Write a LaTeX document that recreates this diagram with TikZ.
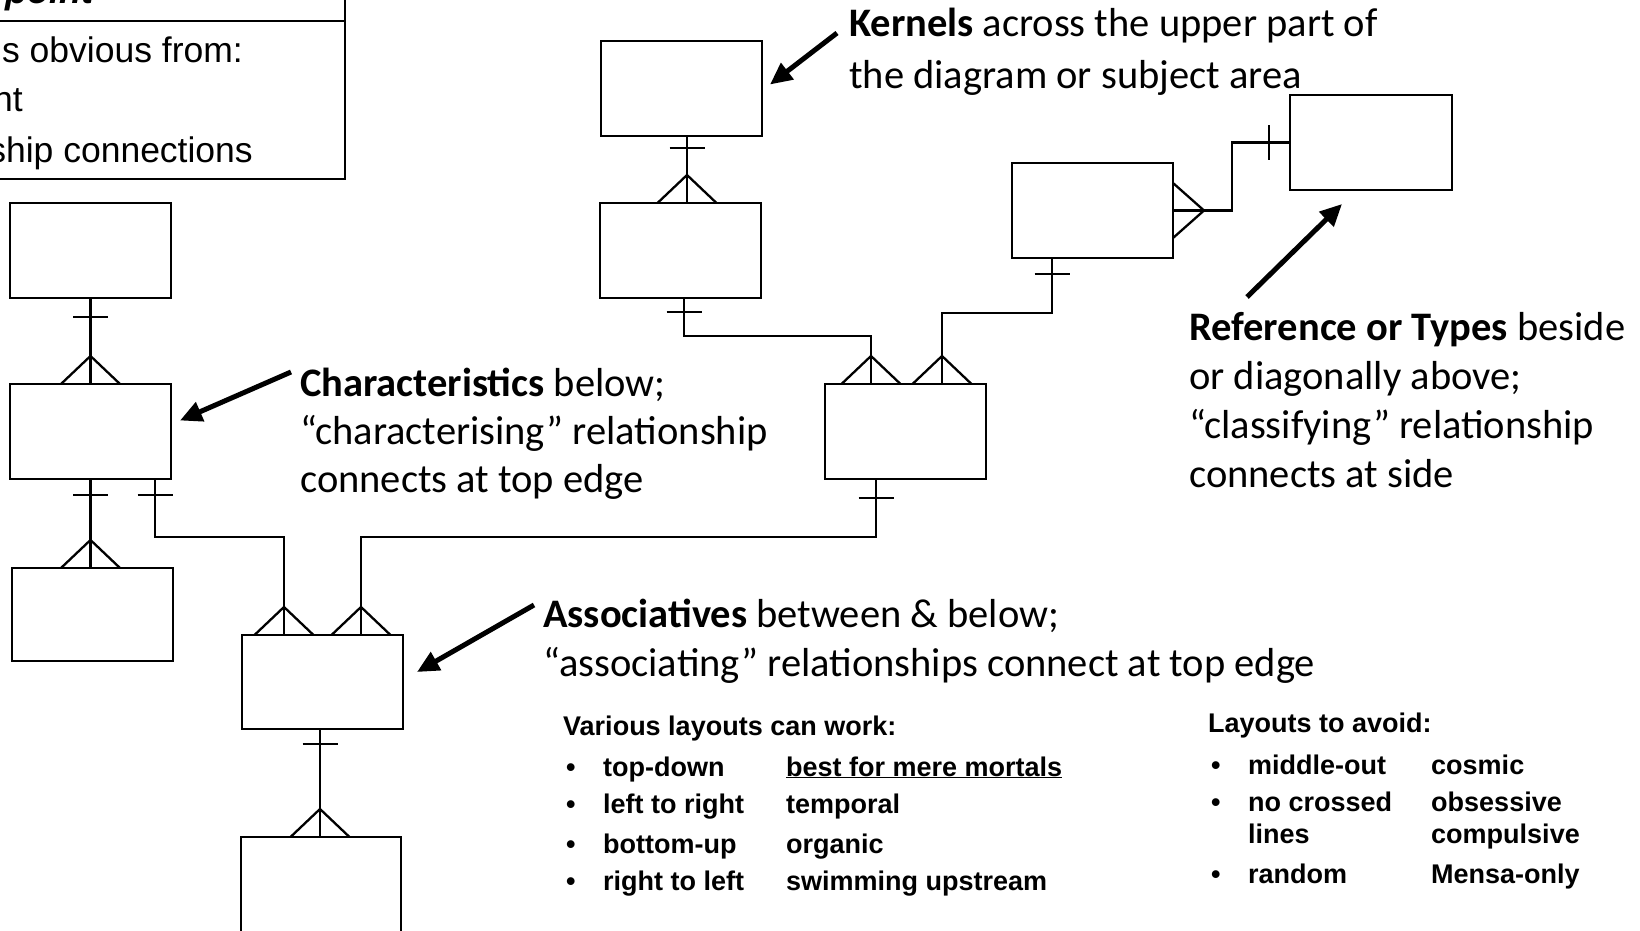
\documentclass[tikz,border=0pt]{standalone}
\usepackage{fontspec}
\setmainfont{Carlito}
\newfontfamily\arialf{Liberation Sans}
\usetikzlibrary{arrows.meta,calc}
\begin{document}
\begin{tikzpicture}[x=1pt,y=-1pt,
  box/.style={draw,line width=2.6pt,inner sep=0pt,outer sep=0pt,minimum width=161pt,minimum height=95pt},
  conn/.style={line width=2.3pt},
  callout/.style={line width=5pt,-{Triangle[length=22pt,width=20pt]}},
  txt/.style={anchor=base west,inner sep=0pt,font=\fontsize{40.5}{50}\selectfont},
  lst/.style={anchor=base west,inner sep=0pt,font=\arialf\bfseries\fontsize{27}{32}\selectfont},
  tl/.style={anchor=base east,inner sep=0pt,font=\arialf\fontsize{35.5}{40}\selectfont},
  barh/.pic={\draw[conn] (-17.5,0) -- (17.5,0);},
  barv/.pic={\draw[conn] (0,-17) -- (0,17);},
  crow/.pic={\draw[conn] (-29.5,0) -- (0,-28) -- (29.5,0);},
  crowr/.pic={\draw[conn] (0,-27.5) -- (31,0) -- (0,27.5);},
]
\path[use as bounding box] (0,0) rectangle (1640,931);
\clip (0,0) rectangle (1640,931);

% top-left partial box
\node[box,minimum width=355pt,minimum height=199pt] (TL) at (167.5,79.5) {};
\coordinate (dv) at (0,21);
\draw[line width=2.6pt] (TL.west |- dv) -- (TL.east |- dv);
\node[anchor=base east,inner sep=0pt,font=\arialf\bfseries\itshape\fontsize{36}{40}\selectfont] (hd) at (94,4) {point};
\node[tl] (tl1) at (243,63) {s obvious from:};
\node[tl] (tl2) at (23,112) {nt};
\node[tl] (tl3) at (253,162) {ship connections};

% boxes
\node[box] (A) at (90.5,250.5) {};
\node[box] (B) at (90.5,431.5) {};
\node[box,minimum height=93pt] (C) at (92.5,614.5) {};
\node[box,minimum height=94pt] (D) at (322.5,682) {};
\node[box,minimum width=160pt,minimum height=100pt] (F) at (321,887) {};
\node[box] (K1) at (681.5,88.5) {};
\node[box] (K2) at (680.5,250.5) {};
\node[box] (E) at (905.5,431.5) {};
\node[box] (R1) at (1092.5,210.5) {};
\node[box,minimum width=162pt] (Ref) at (1371,142.5) {};

% A-B
\draw[conn] (A.south) -- (A.south |- B.north);
\pic at ($(A.south)+(0,19)$) {barh};
\pic at (A.south |- B.north) {crow};
% B-C
\draw[conn] (B.south) -- (B.south |- C.north);
\pic at ($(B.south)+(0,16)$) {barh};
\pic at (B.south |- C.north) {crow};
% B-D
\coordinate (bd) at ($(B.south east)+(-16,0)$);
\coordinate (dl) at ($(D.north west)+(42,0)$);
\draw[conn] (bd) -- ++(0,58) -| (dl);
\pic at ($(bd)+(0,16)$) {barh};
\pic at (dl) {crow};
% E-D
\coordinate (ed) at ($(E.south west)+(51,0)$);
\coordinate (dr) at ($(D.north east)+(-42,0)$);
\draw[conn] (ed) -- ++(0,58) -| (dr);
\pic at ($(ed)+(0,19)$) {barh};
\pic at (dr) {crow};
% D-F
\coordinate (df) at ($(D.south)+(-2.5,0)$);
\draw[conn] (df) -- (df |- F.north);
\pic at ($(df)+(0,15)$) {barh};
\pic at (df |- F.north) {crow};
% K1-K2
\coordinate (kk) at ($(K1.south)+(5.5,0)$);
\draw[conn] (kk) -- (kk |- K2.north);
\pic at ($(kk)+(0,12)$) {barh};
\pic at (kk |- K2.north) {crow};
% K2-E
\coordinate (ke) at ($(K2.south)+(3.5,0)$);
\coordinate (el) at ($(E.north west)+(46,0)$);
\draw[conn] (ke) -- ++(0,38) -| (el);
\pic at ($(ke)+(0,14)$) {barh};
\pic at (el) {crow};
% R1-E
\coordinate (re) at ($(R1.south west)+(40,0)$);
\coordinate (er) at ($(E.north east)+(-44,0)$);
\draw[conn] (re) -- ++(0,55) -| (er);
\pic at ($(re)+(0,16)$) {barh};
\pic at (er) {crow};
% R1-Ref
\draw[conn] (R1.east) -- ++(59,0) |- (Ref.west);
\pic at (R1.east) {crowr};
\pic at ($(Ref.west)+(-21,0)$) {barv};

% callout arrows
\coordinate (kt) at (837,33);
\draw[callout] (kt) -- ($(K1.east)+(8,-4)$);
\coordinate (ct) at (291,372);
\draw[callout] (ct) -- ($(B.east)+(9,-11)$);
\coordinate (at) at (534,605);
\draw[callout] (at) -- ($(D.east)+(14,-10)$);
\coordinate (rt) at (1247,297);
\draw[callout] (rt) -- ($(Ref.south west)+(52,14)$);

% texts
\node[txt] (k1) at (849,37) {\textbf{Kernels} across the upper part of};
\node[txt] (k2) at (849,89) {the diagram or subject area};
\node[txt] (c1) at (300,396) {\textbf{Characteristics} below;};
\node[txt] (c2) at (300,444) {“characterising” relationship};
\node[txt] (c3) at (300,492) {connects at top edge};
\node[txt] (a1) at (543,627) {\textbf{Associatives} between \& below;};
\node[txt] (a2) at (543,676) {“associating” relationships connect at top edge};
\node[txt] (r1) at (1189,340) {\textbf{Reference or Types} beside};
\node[txt] (r2) at (1189,389) {or diagonally above;};
\node[txt] (r3) at (1189,438) {“classifying” relationship};
\node[txt] (r4) at (1189,487) {connects at side};

% left list
\node[lst] (v0) at (563,735) {Various layouts can work:};
\node[lst] (vb1) at (566,776) {•};
\node[lst] (vb2) at (566,813) {•};
\node[lst] (vb3) at (566,853) {•};
\node[lst] (vb4) at (566,890) {•};
\node[lst] (v1) at (603,776) {top-down};
\node[lst] (v2) at (603,813) {left to right};
\node[lst] (v3) at (603,853) {bottom-up};
\node[lst] (v4) at (603,890) {right to left};
\node[lst] (w1) at (786,776) {\underline{best for mere mortals}};
\node[lst] (w2) at (786,813) {temporal};
\node[lst] (w3) at (786,853) {organic};
\node[lst] (w4) at (786,890) {swimming upstream};

% right list
\node[lst] (l0) at (1208,732) {Layouts to avoid:};
\node[lst] (lb1) at (1211,774) {•};
\node[lst] (lb2) at (1211,811) {•};
\node[lst] (lb3) at (1211,883) {•};
\node[lst] (l1) at (1248,774) {middle-out};
\node[lst] (l2) at (1248,811) {no crossed};
\node[lst] (l2b) at (1248,843) {lines};
\node[lst] (l3) at (1248,883) {random};
\node[lst] (m1) at (1431,774) {cosmic};
\node[lst] (m2) at (1431,811) {obsessive};
\node[lst] (m2b) at (1431,843) {compulsive};
\node[lst] (m3) at (1431,883) {Mensa-only};
\end{tikzpicture}
\end{document}
